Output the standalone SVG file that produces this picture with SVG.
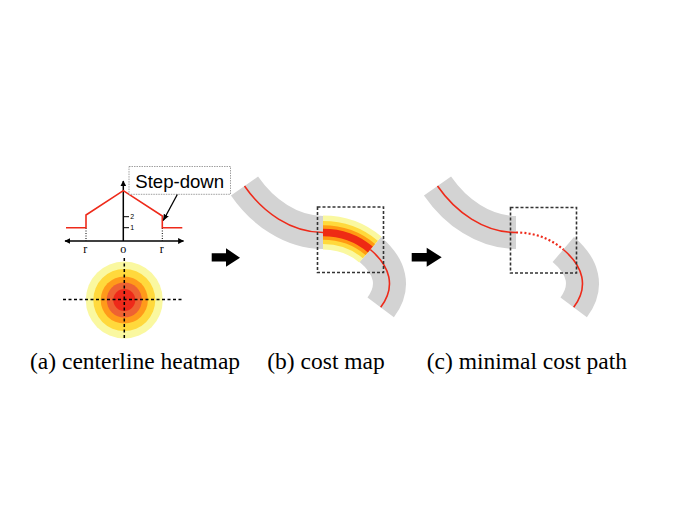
<svg xmlns="http://www.w3.org/2000/svg" width="676" height="507" viewBox="0 0 676 507">
<defs>
<style>
.band{fill:none;stroke:#d3d3d3;stroke-width:33;stroke-linecap:butt}
.cl{fill:none;stroke:#ee2a1a;stroke-width:1.6}
.box{fill:none;stroke:#333;stroke-width:1.6;stroke-dasharray:3 2}
.cap{font-family:"Liberation Serif","Times New Roman",serif;font-size:23.5px;fill:#000}
.ax{font-family:"Liberation Serif","Times New Roman",serif;font-size:12px;fill:#000;text-anchor:middle}
.tk{font-family:"Liberation Sans",Arial,sans-serif;font-size:7px;fill:#000}
.dash{stroke:#000;stroke-width:1.5;stroke-dasharray:3 2.5;fill:none}
.dot{stroke:#000;stroke-width:1;stroke-dasharray:1 1.5;fill:none}
.blk{fill:#000}
</style>
<marker id="ah" viewBox="0 0 10 10" refX="9" refY="5" markerWidth="6" markerHeight="6" markerUnits="userSpaceOnUse" orient="auto">
<path d="M0,0 L10,5 L0,10 Z" fill="#000"/>
</marker>
<marker id="ah2" viewBox="0 0 10 10" refX="9" refY="5" markerWidth="7" markerHeight="7" markerUnits="userSpaceOnUse" orient="auto">
<path d="M0,1 L10,5 L0,9 Z" fill="#000"/>
</marker>
<path id="up" d="M244.5,186 C262.7,212.3 291,232.5 323,232.5"/>
<path id="heat" d="M323,232.5 C340.6,232.5 356.9,238.1 370.3,249.5"/>
<path id="low" d="M370.3,249.5 C390.1,266.3 396.3,286.5 380.7,307.3"/>
</defs>

<g id="panel-a">
  <g id="profile">
    <line x1="123.3" y1="241" x2="123.3" y2="181" stroke="#000" stroke-width="1.5" marker-end="url(#ah)"/>
    <line x1="100" y1="241" x2="65" y2="241" stroke="#000" stroke-width="1.5" marker-end="url(#ah)"/>
    <line x1="100" y1="241" x2="183.5" y2="241" stroke="#000" stroke-width="1.5" marker-end="url(#ah)"/>
    <line x1="124" y1="216.7" x2="129" y2="216.7" stroke="#000" stroke-width="1"/>
    <line x1="124" y1="227.7" x2="129" y2="227.7" stroke="#000" stroke-width="1"/>
    <text class="tk" x="130.3" y="219.2">2</text>
    <text class="tk" x="130.3" y="230.2">1</text>
    <line class="dot" x1="86" y1="228" x2="86" y2="241"/>
    <line class="dot" x1="162.3" y1="228" x2="162.3" y2="241"/>
    <polyline points="66,227.7 86,227.7 86,215 123.3,190.7 162.3,216 162.3,227.7 182.3,227.7" fill="none" stroke="#ee2a1a" stroke-width="1.6"/>
    <text class="ax" x="85.3" y="252.5">r</text>
    <text class="ax" x="123.3" y="252.5">o</text>
    <text class="ax" x="161.7" y="252.5">r</text>
  </g>
  <g id="callout">
    <rect x="129" y="166.5" width="101.5" height="27.8" fill="#fff" stroke="#888" stroke-width="0.8" stroke-dasharray="1.5 1"/>
    <text x="179.7" y="188.3" text-anchor="middle" font-family="'Liberation Sans',Arial,sans-serif" font-size="18.6" fill="#000">Step-down</text>
    <line x1="177.3" y1="194.5" x2="163.3" y2="220.5" stroke="#000" stroke-width="1.3" marker-end="url(#ah2)"/>
  </g>
  <g id="heatmap-disc">
    <circle cx="124.3" cy="300" r="38.5" fill="#faf8a0"/>
    <circle cx="124.3" cy="300" r="31" fill="#ffd93c"/>
    <circle cx="124.3" cy="300" r="23.6" fill="#ff9a1a"/>
    <circle cx="124.3" cy="300" r="17.6" fill="#ee6232"/>
    <circle cx="124.3" cy="300" r="11" fill="#ee2a1a"/>
    <line class="dash" x1="63" y1="299.5" x2="183" y2="299.5"/>
    <line class="dash" x1="124.3" y1="258" x2="124.3" y2="340"/>
  </g>
  <text class="cap" x="30" y="369">(a) centerline heatmap</text>
</g>

<g id="panel-b">
  <use href="#up" class="band"/>
  <use href="#low" class="band"/>
  <use href="#heat" fill="none" stroke="#faf8a0" stroke-width="34"/>
  <use href="#heat" fill="none" stroke="#ffd93c" stroke-width="23"/>
  <use href="#heat" fill="none" stroke="#ff9a12" stroke-width="14.6"/>
  <use href="#heat" fill="none" stroke="#ee2a14" stroke-width="7.6"/>
  <use href="#up" class="cl"/>
  <use href="#low" class="cl"/>
  <rect class="box" x="317.5" y="207" width="66" height="65.5"/>
  <text class="cap" x="267.3" y="369">(b) cost map</text>
</g>

<g id="panel-c">
  <g transform="translate(193,0)">
    <use href="#up" class="band"/>
    <use href="#low" class="band"/>
    <use href="#up" class="cl"/>
    <use href="#low" class="cl"/>
    <use href="#heat" fill="none" stroke="#ee2a1a" stroke-width="2.2" stroke-dasharray="2 2.2"/>
  </g>
  <rect class="box" x="510.5" y="207.5" width="66" height="65.5"/>
  <text class="cap" x="426.7" y="369">(c) minimal cost path</text>
</g>

<g id="connectors">
  <path class="blk" d="M211.7,253.3 L226,253.3 L226,248.3 L240,257.7 L226,266.7 L226,261.5 L211.7,261.5 Z"/>
  <path class="blk" d="M411.7,253 L426.7,253 L426.7,247.8 L441.7,257.3 L426.7,266.7 L426.7,261.4 L411.7,261.4 Z"/>
</g>
</svg>
